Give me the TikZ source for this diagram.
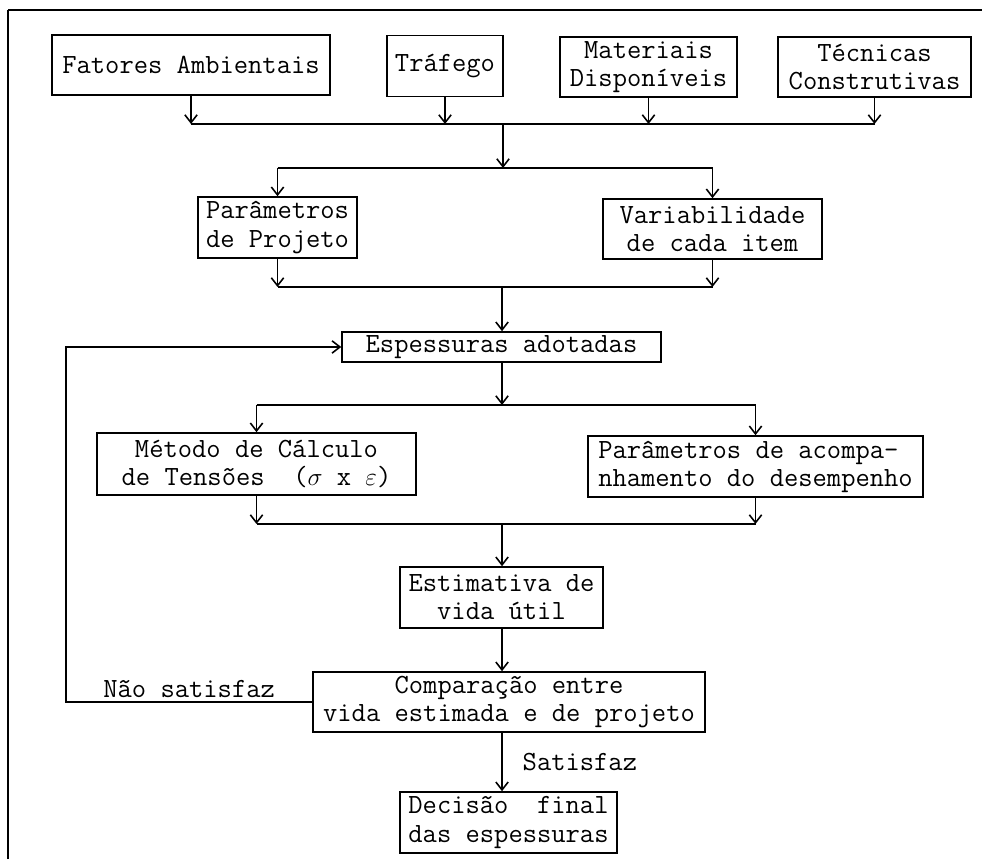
\documentclass[tikz,border=0pt]{standalone}
\usetikzlibrary{arrows.meta}
\begin{document}
\begin{tikzpicture}[x=0.02cm,y=0.02cm,
  blk/.style={draw, line width=0.9pt, inner sep=0pt, align=center,
    font=\ttfamily\fontsize{15.8}{16}\selectfont},
  lnk/.style={line width=0.9pt},
  arr/.style={lnk, -{Straight Barb[length=4.5pt,width=7pt]}}]
  \useasboundingbox (0,0) rectangle (982,859);
  % frame
  \draw[line width=1.6pt] (8,0) -- (8,849);
  \draw[line width=1pt] (8,849) -- (982,849);
  % top row
  \node[blk, minimum width=5.56cm, minimum height=1.2cm] (fat) at (191,794) {Fatores Ambientais};
  \node[blk, minimum width=2.32cm, minimum height=1.22cm] (traf) at (445,793) {Tráfego};
  \node[blk, minimum width=3.54cm, minimum height=1.2cm] (mat) at (648.5,792) {Materiais\\Disponíveis};
  \node[blk, minimum width=3.86cm, minimum height=1.2cm] (tec) at (874.5,792) {Técnicas\\Construtivas};
  % second row
  \node[blk, minimum width=3.18cm, minimum height=1.22cm] (par) at (277.5,631.5) {Parâmetros\\de Projeto};
  \node[blk, minimum width=4.38cm, minimum height=1.2cm] (var) at (712.5,630) {Variabilidade\\de cada item};
  \node[blk, minimum width=6.38cm, minimum height=0.6cm] (esp) at (501.5,512) {Espessuras adotadas};
  \node[blk, minimum width=6.38cm, minimum height=1.24cm] (met) at (256.5,395) {Método de Cálculo\\de Tensões\ \ ($\sigma$ x $\varepsilon$)};
  \node[blk, align=left, minimum width=6.7cm, minimum height=1.22cm] (acomp) at (755.5,392.5) {Parâmetros de acompa-\\nhamento do desempenho};
  \node[blk, minimum width=4.06cm, minimum height=1.22cm] (est) at (501.5,261.5) {Estimativa de\\vida útil};
  \node[blk, minimum width=7.84cm, minimum height=1.2cm] (comp) at (509,157) {Comparação entre\\vida estimada e de projeto};
  \node[blk, align=left, minimum width=4.34cm, minimum height=1.22cm] (dec) at (508.5,36.5) {Decisão\ \ final\\das espessuras};
  % junctions
  \coordinate (j1) at (503,735);
  \coordinate (s1) at (503,691);
  \coordinate (j2) at (502,572);
  \coordinate (s2) at (502,454);
  \coordinate (j3) at (502,335);
  \coordinate (fb) at (66,514);
  % inputs
  \foreach \n in {fat,traf,mat,tec}
    \draw[arr] (\n.south) -- (\n.south |- j1);
  \draw[lnk] (fat.south |- j1) -- (tec.south |- j1);
  \draw[arr] (j1) -- (s1);
  \draw[lnk] (par.north |- s1) -- (var.north |- s1);
  \foreach \n in {par,var} {
    \draw[arr] (\n.north |- s1) -- (\n.north);
    \draw[arr] (\n.south) -- (\n.south |- j2);
  }
  \draw[lnk] (par.south |- j2) -- (var.south |- j2);
  \draw[arr] (j2) -- (esp.north -| j2);
  \draw[arr] (esp.south -| s2) -- (s2);
  \draw[lnk] (met.north |- s2) -- (acomp.north |- s2);
  \foreach \n in {met,acomp} {
    \draw[arr] (\n.north |- s2) -- (\n.north);
    \draw[arr] (\n.south) -- (\n.south |- j3);
  }
  \draw[lnk] (met.south |- j3) -- (acomp.south |- j3);
  \draw[arr] (j3) -- (est.north -| j3);
  \draw[arr] (est.south -| j3) -- (comp.north -| j3);
  \draw[arr] (comp.south -| j3) -- (dec.north -| j3)
    node[midway, right=8pt, font=\ttfamily\fontsize{15.8}{16}\selectfont] {Satisfaz};
  % feedback
  \draw[arr] (comp.west) -| (fb |- esp.west)
    node[pos=0.25, above, inner sep=2pt, font=\ttfamily\fontsize{15.8}{16}\selectfont] {Não satisfaz}
    -- (esp.west);
\end{tikzpicture}
\end{document}
